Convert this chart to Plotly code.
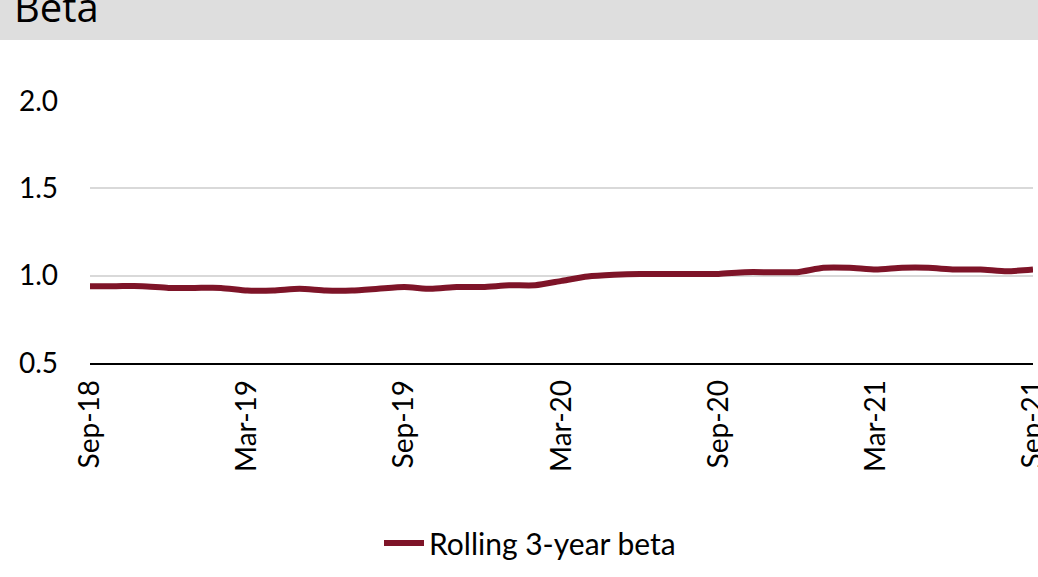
import pandas as pd
import plotly.graph_objects as go

# Monthly observations Sep-2018 .. Sep-2021
months = pd.date_range("2018-09-01", "2021-09-01", freq="MS").strftime("%b-%y").tolist()
beta = [0.94, 0.94, 0.94, 0.93, 0.93, 0.93, 0.915, 0.915, 0.925, 0.915,
        0.915, 0.925, 0.935, 0.925, 0.935, 0.935, 0.945, 0.945, 0.97, 0.995,
        1.005, 1.01, 1.01, 1.01, 1.01, 1.02, 1.02, 1.02, 1.045, 1.045,
        1.035, 1.045, 1.045, 1.035, 1.035, 1.025, 1.035]
tick_labels = ["Sep-18", "Mar-19", "Sep-19", "Mar-20", "Sep-20", "Mar-21", "Sep-21"]
y_ticks = [0.5, 1.0, 1.5, 2.0]
series_name = "Rolling 3-year beta"
title_text = "Beta"

W, H = 1038, 577
L, R, T, B = 90, 5, 101, 214
pw, ph = W - L - R, H - T - B

def px_x(p):
    return (p - L) / pw

def px_y(p):
    return 1 + (T - p) / ph

fig = go.Figure()
fig.add_trace(go.Scatter(
    x=months, y=beta, mode="lines", name=series_name,
    line=dict(color="#7E1428", width=6, shape="spline", smoothing=0.6),
))

fig.update_layout(
    width=W, height=H, autosize=False,
    margin=dict(l=L, r=R, t=T, b=B, autoexpand=False),
    paper_bgcolor="white", plot_bgcolor="white",
    font=dict(family="Lato, sans-serif", color="black", size=28),
    showlegend=True,
    legend=dict(orientation="h", xref="container", yref="container",
                x=530 / W, xanchor="center", y=1 - 543 / H, yanchor="middle",
                font=dict(size=30, color="black"), itemwidth=40),
    xaxis=dict(type="category", range=[0, len(months) - 1], automargin=False,
               tickmode="array", tickvals=tick_labels, ticktext=tick_labels,
               tickangle=-90, showgrid=False, zeroline=False,
               showline=True, linecolor="black", linewidth=1.5,
               ticks="", ticklabelstandoff=4,
               tickfont=dict(size=28, color="black")),
    yaxis=dict(range=[0.5, 2.0], tickmode="array", tickvals=y_ticks, automargin=False,
               tickformat=".1f", showgrid=True, gridcolor="#D9D9D9", gridwidth=1.5,
               zeroline=False, showline=False, ticks="", ticklabelstandoff=31,
               tickfont=dict(size=28, color="black")),
    shapes=[dict(type="rect", xref="paper", yref="paper",
                 x0=px_x(-5), x1=px_x(W + 5), y0=px_y(40), y1=px_y(-5),
                 fillcolor="#DEDEDE", line=dict(width=0), layer="below")],
    annotations=[dict(text=title_text, xref="paper", yref="paper",
                      x=px_x(12), xanchor="left", y=px_y(36), yanchor="bottom",
                      showarrow=False, font=dict(family="Open Sans, sans-serif", size=40, color="black"))],
)

fig.write_html("out.html", config={"responsive": False, "displayModeBar": False},
               post_script="document.body.style.margin='0';document.body.style.overflow='hidden';")
